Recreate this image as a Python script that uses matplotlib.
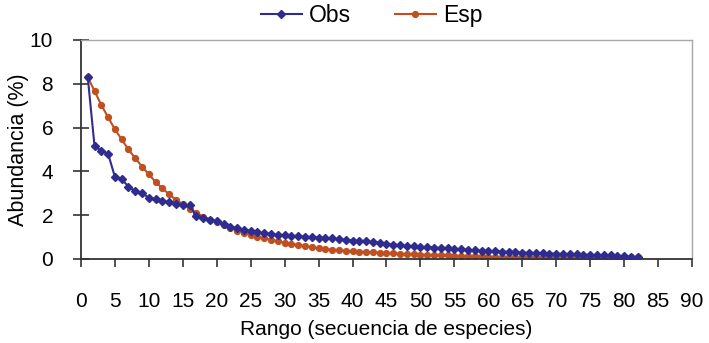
import matplotlib
matplotlib.use("Agg")
import matplotlib.pyplot as plt

plt.rcParams['font.family'] = ['Liberation Sans', 'DejaVu Sans']

# Rank-abundance data: observed vs expected (%) for 82 species
rango = list(range(1, 83))

obs = [8.30, 5.15, 4.95, 4.80, 3.75, 3.65, 3.30, 3.10, 3.00, 2.80,
       2.72, 2.65, 2.58, 2.52, 2.45, 2.45, 1.95, 1.88, 1.80, 1.72,
       1.60, 1.48, 1.40, 1.34, 1.28, 1.22, 1.18, 1.14, 1.10, 1.08,
       1.06, 1.04, 1.02, 1.00, 0.98, 0.96, 0.94, 0.90, 0.87, 0.84,
       0.82, 0.80, 0.78, 0.74, 0.68, 0.66, 0.63, 0.60, 0.58, 0.56,
       0.54, 0.52, 0.50, 0.48, 0.46, 0.44, 0.42, 0.40, 0.38, 0.36,
       0.35, 0.33, 0.32, 0.31, 0.29, 0.28, 0.27, 0.26, 0.25, 0.24,
       0.23, 0.22, 0.21, 0.20, 0.19, 0.18, 0.17, 0.16, 0.14, 0.12,
       0.10, 0.08]

esp = [8.30, 7.67, 7.03, 6.47, 5.92, 5.46, 5.00, 4.60, 4.22, 3.86,
       3.52, 3.22, 2.95, 2.70, 2.50, 2.30, 2.10, 1.94, 1.80, 1.68,
       1.55, 1.42, 1.30, 1.20, 1.10, 1.02, 0.95, 0.88, 0.81, 0.75,
       0.69, 0.64, 0.59, 0.54, 0.50, 0.46, 0.43, 0.40, 0.38, 0.36,
       0.34, 0.32, 0.30, 0.29, 0.27, 0.26, 0.24, 0.23, 0.21, 0.20,
       0.19, 0.18, 0.17, 0.16, 0.15, 0.14, 0.13, 0.12, 0.115, 0.11,
       0.10, 0.10, 0.095, 0.09, 0.09, 0.085, 0.08, 0.08, 0.075, 0.075,
       0.07, 0.07, 0.07, 0.065, 0.065, 0.065, 0.06, 0.06, 0.06, 0.06,
       0.07, 0.09]

x_ticks = list(range(0, 91, 5))
y_ticks = list(range(0, 11, 2))

BLUE = '#2e2d8f'
ORANGE = '#c0501f'
FS = 15

fig = plt.figure(figsize=(7.09, 3.43), dpi=100)
ax = fig.add_axes([0.1142, 0.2449, 0.8618, 0.6385])

ax.plot(rango, obs, color=BLUE, lw=1.5, marker='D', ms=4.0,
        mec=BLUE, mfc=BLUE, label='Obs', zorder=3)
ax.plot(rango, esp, color=ORANGE, lw=1.5, marker='o', ms=4.2,
        mec=ORANGE, mfc=ORANGE, label='Esp', zorder=2)

ax.set_xlim(0, 90)
ax.set_ylim(0, 10)
ax.set_xticks(x_ticks)
ax.set_yticks(y_ticks)

ax.tick_params(axis='x', direction='out', length=6, width=1.2,
               pad=18, labelsize=FS, color='#333333')
ax.tick_params(axis='y', direction='inout', length=12, width=1.2,
               pad=14, labelsize=FS, color='#333333')

for side in ('left', 'bottom'):
    ax.spines[side].set_color('#333333')
    ax.spines[side].set_linewidth(1.3)
for side in ('top', 'right'):
    ax.spines[side].set_color('#a8a8a8')
    ax.spines[side].set_linewidth(1.0)

ax.set_xlabel('Rango (secuencia de especies)', fontsize=FS, labelpad=6)
ax.set_ylabel('Abundancia (%)', fontsize=FS + 0.5)
ax.yaxis.set_label_coords(-0.085, 0.5)

fig.legend(loc='center', bbox_to_anchor=(0.524, 0.955), ncol=2,
           frameon=False, fontsize=16.5, handlelength=1.8,
           columnspacing=1.9, handletextpad=0.3)

fig.savefig('out.png', dpi=100)
